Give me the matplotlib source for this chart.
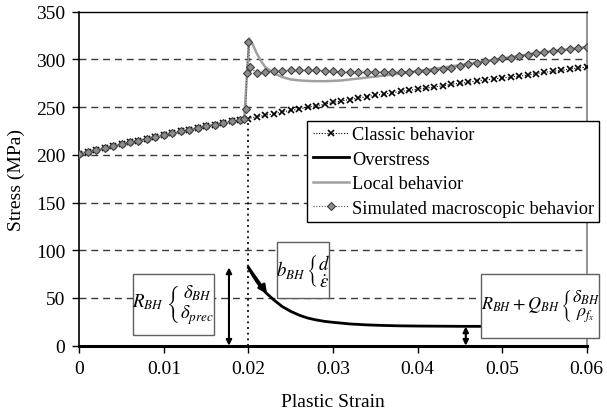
import numpy as np
import matplotlib
matplotlib.use("Agg")
import matplotlib.pyplot as plt
from matplotlib.patches import Rectangle

plt.rcParams['font.family'] = ['Liberation Serif', 'DejaVu Serif']
plt.rcParams['mathtext.fontset'] = 'stix'

# classic hardening curve, one point every 0.001 of plastic strain
strain = np.round(np.arange(61) * 0.001, 4)
classic = [201, 203, 205, 207, 209, 211, 213, 215, 217, 218.5, 220.5,
           222.5, 224.5, 226, 228, 230, 231.5, 233, 235, 236.5, 238,
           240, 241.5, 243, 245, 246.5, 248, 250, 251.5, 253, 255,
           256.5, 258, 259.5, 261, 262.5, 263.5, 265, 266.5, 267.5, 269,
           270, 271, 272.5, 274, 275, 276, 277.5, 278.5, 279.5, 280.5,
           281.5, 282.5, 283.5, 285, 286.5, 287.5, 288.5, 290, 291, 292]

# simulated macroscopic response (finer points around the jump)
sim_strain = list(strain[:20]) + [0.0195, 0.0197, 0.0198, 0.0200, 0.0202] + list(strain[21:])
sim_stress = [201, 203, 205, 207, 209, 211, 213, 215, 217, 218.5, 220.5,
              222.5, 224.5, 226, 228, 230, 231.5, 233, 235, 236.5,
              237.5, 248, 286, 318, 292,
              285.5, 287, 287.5, 288, 289, 289, 289, 288.5, 288, 287.5,
              287, 286.5, 286.5, 286.5, 286.5, 286.5, 286.5, 286.5, 287, 287.5,
              288, 289, 290, 291.5, 293, 295, 296.5, 298, 299.5, 301,
              302, 303.5, 305, 306.5, 307.5, 308.5, 309.5, 310.5, 312, 313]

# local behaviour
loc_strain = [0.0, 0.005, 0.010, 0.015, 0.0195, 0.0198, 0.0201, 0.0205, 0.021,
              0.0215, 0.022, 0.023, 0.024, 0.025, 0.026, 0.027, 0.028, 0.029,
              0.030, 0.031, 0.032, 0.033, 0.034, 0.035, 0.036, 0.037, 0.038,
              0.039, 0.040, 0.041, 0.042, 0.043, 0.044, 0.045, 0.046, 0.047,
              0.048, 0.049, 0.050, 0.052, 0.054, 0.056, 0.058, 0.060]
loc_stress = [201, 211, 220.5, 230, 237, 280, 322, 316, 306,
              298, 292, 285.5, 281.5, 279, 278, 277.5, 277.2, 277.2,
              277.5, 278, 279, 280, 281, 282, 283, 284, 285.3,
              286.5, 287.8, 289, 290.2, 291.5, 292.8, 294, 295.3, 296.8,
              298.3, 299.7, 301, 303.7, 306.5, 308.8, 310.8, 313]

# overstress after the yield point
over_strain = [0.020, 0.0205, 0.021, 0.0215, 0.022, 0.023, 0.024, 0.025,
               0.026, 0.027, 0.028, 0.029, 0.030, 0.032, 0.034, 0.036,
               0.038, 0.040, 0.045, 0.050, 0.055, 0.060]
over_stress = [82, 74, 67, 61, 56, 48, 41, 36, 32, 29, 27, 25.5, 24.5,
               22.8, 21.8, 21.2, 20.8, 20.6, 20.3, 20.2, 20.1, 20.1]

yield_strain = 0.02

fig = plt.figure(figsize=(6.07, 4.10), dpi=100)
ax = fig.add_axes([0.1306, 0.1544, 0.836, 0.8146])

for yv in [50, 100, 150, 200, 250, 300]:
    ax.axhline(yv, color='#3a3a3a', lw=1.0, dashes=(5, 3.5), zorder=1)

ax.vlines(yield_strain, 0, classic[20], colors='black', linestyles=(0, (1.2, 2.2)), lw=1.2, zorder=2)

ax.plot(strain, classic, color='black', ls=(0, (1, 1.5)), lw=0.8,
        marker='x', ms=4, mew=1.2, mec='black', label='Classic behavior', zorder=3)
ax.plot(over_strain, over_stress, color='black', lw=2, label='Overstress', zorder=3)
ax.plot(loc_strain, loc_stress, color='#a0a0a0', lw=1.8, label='Local behavior', zorder=3)
ax.plot(sim_strain, sim_stress, color='#505050', ls=(0, (1, 1.5)), lw=0.8,
        marker='D', ms=3.8, mfc='#8c8c8c', mec='#404040', mew=0.8,
        label='Simulated macroscopic behavior', zorder=4)

ax.set_xlim(0, 0.06)
ax.set_ylim(0, 350)
ax.set_xticks([0, 0.01, 0.02, 0.03, 0.04, 0.05, 0.06])
ax.set_xticklabels(['0', '0.01', '0.02', '0.03', '0.04', '0.05', '0.06'])
ax.set_yticks(range(0, 351, 50))
ax.tick_params(direction='out', length=5, width=1, labelsize=14, colors='black', pad=5)
ax.set_xlabel('Plastic Strain', fontsize=14, labelpad=12)
ax.set_ylabel('Stress (MPa)', fontsize=14, labelpad=8)

ax.spines['bottom'].set_linewidth(2.2)
ax.spines['left'].set_linewidth(1.2)
ax.spines['top'].set_linewidth(1.0)
ax.spines['right'].set_color('#808080')
ax.spines['right'].set_linewidth(1.2)

# annotation boxes
box_kw = dict(facecolor='white', edgecolor='#606060', lw=1.0, zorder=6, clip_on=False)
ax.add_patch(Rectangle((0.00635, 11.2), 0.00958, 63.9, **box_kw))
ax.add_patch(Rectangle((0.02338, 50), 0.00614, 58.7, **box_kw))
ax.add_patch(Rectangle((0.0475, 8.1), 0.0139, 67, **box_kw))

txt_kw = dict(ha='center', va='center', zorder=7, clip_on=False)
ax.text(0.01114, 43.2, r'$R_{BH}\ \genfrac{\{}{}{0}{0}{\delta_{BH}}{\delta_{prec}}$', fontsize=13.5, **txt_kw)
ax.text(0.02645, 79.3, r'$b_{BH}\,\genfrac{\{}{}{0}{0}{d}{\dot{\varepsilon}}$', fontsize=13.5, **txt_kw)
ax.text(0.05455, 41.6, r'$R_{BH}+Q_{BH}\,\genfrac{\{}{}{0}{0}{\delta_{BH}}{\rho_{f_x}}$', fontsize=13, **txt_kw)

arr_kw = dict(arrowstyle='<|-|>', color='black', lw=1.5, mutation_scale=8, shrinkA=0, shrinkB=0)
ax.annotate('', xy=(0.0177, 0), xytext=(0.0177, over_stress[0]), arrowprops=arr_kw, zorder=5)
ax.annotate('', xy=(0.0457, 0), xytext=(0.0457, over_stress[-1]), arrowprops=arr_kw, zorder=5)
ax.annotate('', xy=(0.0222, np.interp(0.0222, over_strain, over_stress)),
            xytext=(over_strain[0], over_stress[0]),
            arrowprops=dict(arrowstyle='-|>', color='black', lw=2, mutation_scale=12,
                            shrinkA=0, shrinkB=0), zorder=5)

fig.legend(loc='upper left', bbox_to_anchor=(307 / 607, 1 - 122 / 410), fontsize=13.2,
           frameon=True, fancybox=False, framealpha=1, edgecolor='black',
           borderpad=0.3, labelspacing=0.4, handlelength=2.0, handletextpad=0.15,
           borderaxespad=0)

fig.savefig('out.png', dpi=100)
